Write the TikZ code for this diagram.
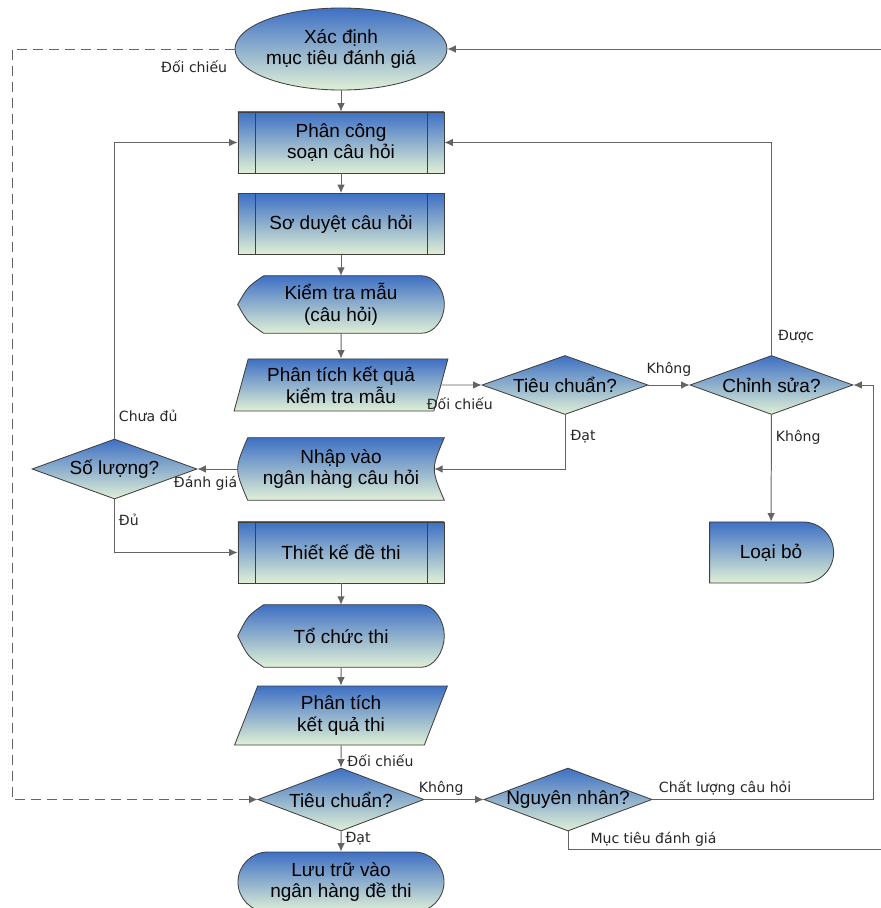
\documentclass[tikz,border=0pt]{standalone}
\usepackage{fontspec}
\setmainfont{Liberation Sans}
\newfontfamily\lblfont{DejaVu Sans}
\usetikzlibrary{arrows.meta, shapes.geometric, shapes.misc, backgrounds}

\definecolor{topblue}{RGB}{62,112,196}
\definecolor{botgreen}{RGB}{224,240,214}
\definecolor{linegray}{RGB}{100,100,100}

% text of a diamond does not widen it
\newcommand{\dtext}[1]{\makebox[0pt]{#1}}
% outline of a display shape round node #1
\newcommand{\displayshape}[1]{%
  \path[shapefill] (#1.west) .. controls ([xshift=0.25cm, yshift=-0.275cm]#1.north west) .. ([xshift=0.65cm]#1.north west)
    -- ([xshift=-0.575cm]#1.north east) .. controls ([xshift=-0.26cm]#1.north east) and ([yshift=0.39cm]#1.east) .. (#1.east)
    .. controls ([yshift=-0.39cm]#1.east) and ([xshift=-0.26cm]#1.south east) .. ([xshift=-0.575cm]#1.south east)
    -- ([xshift=0.65cm]#1.south west) .. controls ([xshift=0.25cm, yshift=0.275cm]#1.south west) .. (#1.west) -- cycle;}

\begin{document}
\begin{tikzpicture}[x=0.025cm, y=-0.025cm]

\tikzset{shapefill/.style = {draw=black!75, line width=0.6pt, top color=topblue, bottom color=botgreen}}
\tikzset{txt/.style = {align=center, inner sep=0pt, font=\fontsize{13.5}{15.5}\selectfont}}
\tikzset{box/.style = {txt, shapefill}}
\tikzset{terminal/.style = {box, ellipse, minimum width=5.175cm, minimum height=2.05cm}}
\tikzset{process/.style = {box, rectangle, minimum width=5.15cm, minimum height=1.525cm,
  path picture={\draw[black!75, line width=0.6pt] ([xshift=0.425cm]path picture bounding box.north west) -- ([xshift=0.425cm]path picture bounding box.south west)
    ([xshift=-0.425cm]path picture bounding box.north east) -- ([xshift=-0.425cm]path picture bounding box.south east);}}}
\tikzset{display/.style = {txt, rectangle, minimum width=5.15cm}}
\tikzset{io/.style = {box, trapezium, trapezium left angle=73, trapezium right angle=107, trapezium stretches=true, minimum width=5.35cm}}
\tikzset{decision/.style = {box, diamond, minimum width=4.15cm, minimum height=1.5cm}}
\tikzset{delay/.style = {box, rounded rectangle, rounded rectangle west arc=none, minimum width=3.1cm, minimum height=1.525cm}}
\tikzset{stop/.style = {box, rounded rectangle, minimum width=5.15cm, minimum height=1.5cm}}
\tikzset{edge/.style = {->, >={Latex[length=0.21cm, width=0.19cm]}, draw=linegray, line width=0.7pt}}
\tikzset{lbl/.style = {font=\lblfont\fontsize{10}{12}\selectfont, text=black!85, inner sep=0pt}}

\useasboundingbox (0,0) rectangle (881,908);

%shapes
\node[terminal] (goal) at (341,49) {Xác định\\mục tiêu đánh giá};
\node[process] (assign) at (341,142.5) {Phân công\\soạn câu hỏi};
\node[process] (review) at (341,224) {Sơ duyệt câu hỏi};
\node[display, minimum height=1.425cm] (pilot) at (341,304.5) {Kiểm tra mẫu\\(câu hỏi)};
\node[io, minimum height=1.3cm] (check1) at (341,385) {Phân tích kết quả\\kiểm tra mẫu};
\node[txt, rectangle, minimum width=5.15cm, minimum height=1.55cm] (store) at (341,469) {Nhập vào\\ngân hàng câu hỏi};
\node[process] (design) at (341,552.5) {Thiết kế đề thi};
\node[display, minimum height=1.55cm] (exam) at (341,636) {Tổ chức thi};
\node[io, minimum height=1.475cm] (check2) at (341,715.5) {Phân tích\\kết quả thi};
\node[decision, minimum height=1.575cm] (crit2) at (341,799.5) {\dtext{Tiêu chuẩn?}};
\node[stop] (save) at (341,882) {Lưu trữ vào\\ngân hàng đề thi};
\node[decision, minimum height=1.475cm] (crit1) at (565,385) {\dtext{Tiêu chuẩn?}};
\node[decision, minimum width=4.075cm, minimum height=1.475cm] (edit) at (771.5,385) {\dtext{Chỉnh sửa?}};
\node[delay] (discard) at (771,552.5) {Loại bỏ};
\node[decision, minimum width=4.125cm] (count) at (114.5,469) {\dtext{Số lượng?}};
\node[decision, minimum width=4.2cm, minimum height=1.575cm] (cause) at (568,799.5) {\dtext{Nguyên nhân?}};

\coordinate (lb) at (12,400);
\coordinate (rb) at (895,849);

\begin{scope}[on background layer]
\displayshape{pilot}
\displayshape{exam}
\path[shapefill] ([xshift=0.25cm]store.north west) -- (store.north east) .. controls ([xshift=-0.333cm]store.east) .. (store.south east)
  -- ([xshift=0.25cm]store.south west) .. controls ([xshift=-0.083cm]store.west) .. ([xshift=0.25cm]store.north west) -- cycle;
\end{scope}

%main column
\draw[edge] (goal) -- (assign);
\draw[edge] (assign) -- (review);
\draw[edge] (review) -- (pilot);
\draw[edge] (pilot) -- (check1);
\draw[edge] (design) -- (exam);
\draw[edge] (exam) -- (check2);
\draw[edge] (check2) -- node[lbl, pos=1, anchor=base west, xshift=0.15cm, yshift=0.02cm] {Đối chiếu} (crit2);
\draw[edge] (crit2) -- node[lbl, pos=0, anchor=base west, xshift=0.1cm, yshift=-0.275cm] {Đạt} (save);

%question loop
\draw[edge] (check1.east) -- node[lbl, pos=0, anchor=base west, xshift=-0.375cm, yshift=-0.6cm] {Đối chiếu} (crit1.west);
\draw[edge] (crit1) -- node[lbl, midway, anchor=base, yshift=0.3cm] {Không} (edit);
\draw[edge] (crit1.south) |- node[lbl, pos=0, anchor=base west, xshift=0.125cm, yshift=-0.65cm] {Đạt} ([xshift=-0.25cm]store.east);
\draw[edge] (edit.north) |- node[lbl, pos=0, anchor=base west, xshift=0.15cm, yshift=0.375cm] {Được} (assign.east);
\draw[edge] (edit) -- node[lbl, pos=0, anchor=base west, xshift=0.1cm, yshift=-0.675cm] {Không} (discard);
\draw[edge] (store.west) -- node[lbl, pos=1, anchor=base west, xshift=-0.6cm, yshift=-0.45cm] {Đánh giá} (count.east);
\draw[edge] (count.north) |- node[lbl, pos=0, anchor=base west, xshift=0.1cm, yshift=0.425cm] {Chưa đủ} (assign.west);
\draw[edge] (count.south) |- node[lbl, pos=0, anchor=base west, xshift=0.1cm, yshift=-0.65cm] {Đủ} (design.west);

%exam loop
\draw[edge] (crit2) -- node[lbl, pos=0, anchor=base west, xshift=-0.15cm, yshift=0.175cm] {Không} (cause);
\draw[edge] (cause.east) -| node[lbl, pos=0, anchor=base west, xshift=0.15cm, yshift=0.175cm] {Chất lượng câu hỏi} ([xshift=0.5cm]edit.east) -- (edit.east);
\draw[edge] (cause.south) |- node[lbl, pos=0, anchor=base west, xshift=0.55cm, yshift=-0.3cm] {Mục tiêu đánh giá} (rb) |- (goal.east);
\draw[edge, dashed, dash pattern=on 0.25cm off 0.15cm] (goal.west) -| node[lbl, pos=0, anchor=base east, xshift=-0.175cm, yshift=-0.575cm] {Đối chiếu} (lb) |- (crit2.west);

\end{tikzpicture}
\end{document}
